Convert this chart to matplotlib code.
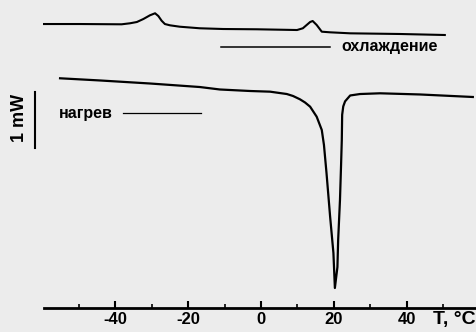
import matplotlib
matplotlib.use("Agg")
import matplotlib.pyplot as plt

# cooling run (T, degC ; heat flow, mW, arbitrary offset)
cool_t = [-59.6, -49.7, -38.3, -36.0, -34.1, -32.3, -30.5, -29.1, -28.2, -27.3,
          -26.4, -25.0, -22.3, -16.8, -10.4, -1.1, 9.9, 11.5, 13.5, 14.2,
          15.3, 16.7, 19.0, 24.5, 38.2, 50.5]
cool_q = [5.071, 5.071, 5.066, 5.084, 5.107, 5.161, 5.227, 5.263, 5.214, 5.130,
          5.071, 5.048, 5.023, 4.995, 4.982, 4.977, 4.964, 4.995, 5.107, 5.125,
          5.054, 4.934, 4.923, 4.905, 4.893, 4.875]

# heating run
heat_t = [-55.2, -44.2, -30.5, -16.8, -11.3, -3.0, 2.5, 7.1, 8.8, 10.7, 12.1, 13.5,
          15.3, 16.7, 17.3, 18.0, 19.0, 19.9, 20.3, 21.0, 21.2, 21.7,
          22.0, 22.2, 22.3, 22.6, 23.1, 24.5, 27.2, 32.7, 43.7, 58.2]
heat_q = [4.102, 4.063, 4.009, 3.946, 3.902, 3.875, 3.863, 3.821, 3.786, 3.727, 3.670, 3.595,
          3.416, 3.179, 2.911, 2.411, 1.625, 0.982, 0.357, 0.732, 1.214, 1.929,
          2.554, 3.000, 3.450, 3.600, 3.690, 3.795, 3.821, 3.834, 3.813, 3.768]

major_ticks = [-40, -20, 0, 20, 40]
tick_labels = ["-40", "-20", "0", "20", "40"]
minor_ticks = [-50, -30, -10, 10, 30, 50]

plt.rcParams["font.family"] = ["Liberation Sans", "DejaVu Sans"]

fig = plt.figure(figsize=(4.76, 3.32), dpi=100)
fig.patch.set_facecolor("#ececec")
ax = fig.add_axes([0, 0, 1, 1])
ax.set_facecolor("#ececec")
ax.set_xlim(-71.7, 59.07)
ax.set_ylim(-0.4286, 5.5)

ax.plot(cool_t, cool_q, color="black", lw=1.5, solid_joinstyle="round")
ax.plot(heat_t, heat_q, color="black", lw=1.6, solid_joinstyle="round")

# axis: only the bottom line, ticks pointing up
for side in ("left", "right", "top"):
    ax.spines[side].set_visible(False)
ax.spines["bottom"].set_position(("data", 0))
ax.spines["bottom"].set_bounds(-59.6, 60)
ax.spines["bottom"].set_linewidth(2)
ax.set_xticks(major_ticks)
ax.set_xticklabels(tick_labels, fontweight="bold", fontsize=12)
ax.set_xticks(minor_ticks, minor=True)
ax.tick_params(axis="x", which="major", direction="in", length=5, width=1.5, pad=3)
ax.tick_params(axis="x", which="minor", direction="in", length=3, width=1.2)
ax.set_yticks([])
ax.text(53.0, -0.2, "T, °C", fontsize=14, fontweight="bold",
        ha="center", va="center")

# 1 mW scale bar
ax.plot([-62.1, -62.1], [2.857, 3.857], color="black", lw=1.5)
ax.text(-66.4, 3.4, "1 mW", rotation=90, fontsize=13, fontweight="bold",
        ha="center", va="center")

# curve labels
ax.text(-48.2, 3.482, "нагрев", fontsize=11.5, fontweight="bold",
        ha="center", va="center")
ax.plot([-37.9, -16.5], [3.482, 3.482], color="black", lw=0.9)
ax.text(35.2, 4.661, "охлаждение", fontsize=11.5, fontweight="bold",
        ha="center", va="center")
ax.plot([-11.0, 19.0], [4.661, 4.661], color="black", lw=1.1)

fig.savefig("out.png", dpi=100, facecolor=fig.get_facecolor())
